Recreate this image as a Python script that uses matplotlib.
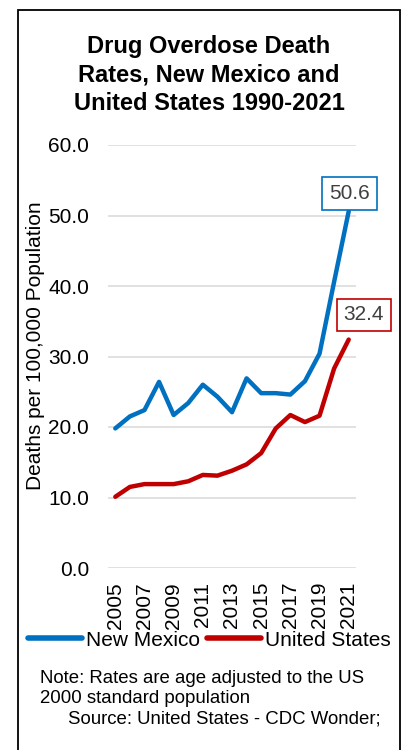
import matplotlib
matplotlib.use("Agg")
import matplotlib.pyplot as plt
from matplotlib.patches import Rectangle

plt.rcParams['font.family'] = ['Liberation Sans', 'DejaVu Sans']

# Age-adjusted overdose death rates per 100,000
years = list(range(2005, 2022))
new_mexico = [19.8, 21.5, 22.4, 26.4, 21.7, 23.4, 26.0, 24.3, 22.1, 26.9,
              24.8, 24.8, 24.6, 26.5, 30.4, 40.6, 50.6]
united_states = [10.1, 11.5, 11.9, 11.9, 11.9, 12.3, 13.2, 13.1, 13.8, 14.7,
                 16.3, 19.8, 21.7, 20.7, 21.6, 28.3, 32.4]
y_ticks = [0, 10, 20, 30, 40, 50, 60]

title_lines = ['Drug Overdose Death', 'Rates, New Mexico and',
               'United States 1990-2021']
note_lines = ['Note: Rates are age adjusted to the US',
              '2000 standard population']
source_line = 'Source: United States - CDC Wonder;'

blue = '#0070C0'
red = '#C00000'

W, H = 406, 750
fig = plt.figure(figsize=(W / 100, H / 100), dpi=100)


def fx(px):
    return px / W


def fy(py):
    return 1 - py / H


# outer border (runs off the bottom edge)
fig.patches.append(Rectangle((fx(18), -0.05), 382 / W, 1.05 - 10 / H,
                             transform=fig.transFigure, fill=False,
                             edgecolor='black', linewidth=1.3))

ax = fig.add_axes([fx(108), fy(568), 248 / W, 423 / H])

pos = list(range(len(years)))
ax.plot(pos, new_mexico, color=blue, linewidth=3.2, solid_joinstyle='round',
        solid_capstyle='round', label='New Mexico')
ax.plot(pos, united_states, color=red, linewidth=3.2, solid_joinstyle='round',
        solid_capstyle='round', label='United States')

ax.set_xlim(-0.5, len(years) - 0.5)
ax.set_ylim(0, 60)
ax.set_yticks(y_ticks)
ax.set_yticklabels([f'{v:.1f}' for v in y_ticks])
ax.set_xticks(pos[::2])
ax.set_xticklabels([str(y) for y in years[::2]], rotation=90)
ax.tick_params(axis='y', length=0, pad=13.5, labelsize=15)
ax.tick_params(axis='x', length=0, pad=10, labelsize=15)
ax.grid(axis='y', color='#D9D9D9', linewidth=1.1)
ax.set_axisbelow(True)
for s in ax.spines.values():
    s.set_visible(False)

# value callouts for the last year
ax.annotate(f'{new_mexico[-1]:.1f}', (pos[-1], new_mexico[-1]),
            xytext=(0.7, 13), textcoords='offset points', ha='center',
            va='center', fontsize=15, color='#404040',
            bbox=dict(boxstyle='square,pad=0.33', facecolor='white',
                      edgecolor=blue, linewidth=1.2))
ax.annotate(f'{united_states[-1]:.1f}', (pos[-1], united_states[-1]),
            xytext=(10.8, 17.7), textcoords='offset points', ha='center',
            va='center', fontsize=15, color='#404040',
            bbox=dict(boxstyle='square,pad=0.33', facecolor='white',
                      edgecolor=red, linewidth=1.2))

fig.text(fx(36), fy(346), 'Deaths per 100,000 Population',
         rotation=90, ha='center', va='center', fontsize=15)

for line, base in zip(title_lines, [52.7, 81.5, 110]):
    fig.text(fx(209), fy(base), line, ha='center', va='baseline',
             fontsize=17, fontweight='bold')

leg = fig.legend(loc='center', bbox_to_anchor=(fx(209.5), fy(640)), ncol=2,
                 frameon=False, fontsize=15, handlelength=2.6,
                 handletextpad=0.2, columnspacing=0.3, borderaxespad=0,
                 borderpad=0)
for h in leg.get_lines():
    h.set_linewidth(4)

for line, base in zip(note_lines, [683.3, 703.3]):
    fig.text(fx(40), fy(base), line, ha='left', va='baseline', fontsize=13.4)
fig.text(fx(68), fy(723.3), source_line, ha='left', va='baseline',
         fontsize=13.4)

fig.savefig('out.png', dpi=100)
